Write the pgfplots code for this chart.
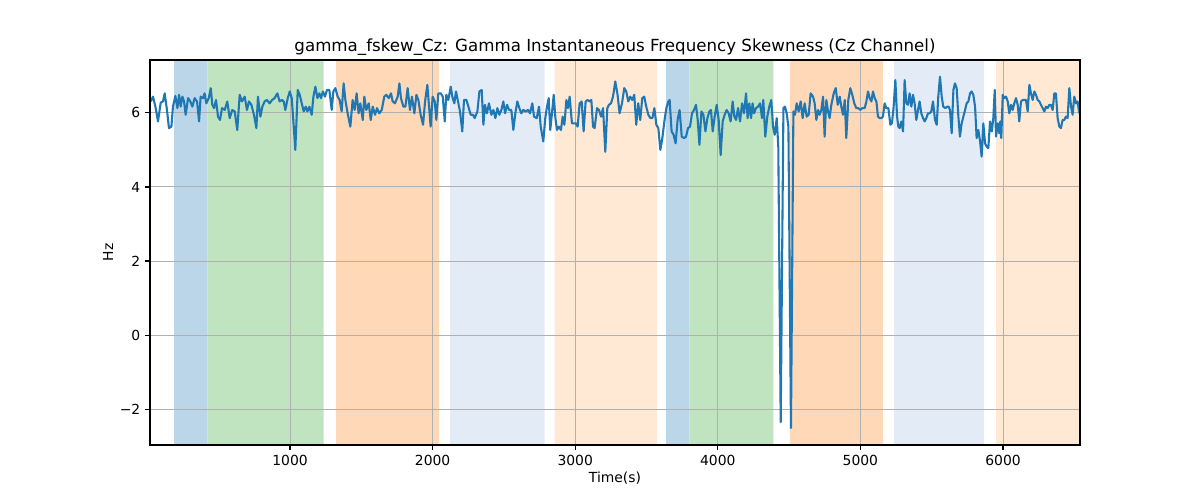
\documentclass[border=0pt]{standalone}
\usepackage{pgfplots}
\pgfplotsset{compat=1.18}
\usepackage{fontspec}
\setmainfont{DejaVu Sans}
\definecolor{tabblue}{RGB}{31,119,180}
\definecolor{gridgray}{RGB}{176,176,176}
\definecolor{spanblue}{RGB}{188,214,233}
\definecolor{spangreen}{RGB}{192,227,192}
\definecolor{spanorange}{RGB}{255,217,183}
\definecolor{spanlblue}{RGB}{227,236,246}
\definecolor{spanlorange}{RGB}{255,233,212}
\pgfplotstableread{
t v
23 6.31
39 6.44
56 6.17
74 5.77
93 6.28
109 6.31
121 6.53
137 6.08
151 5.59
168 5.63
179 6.17
196 6.46
210 6.13
222 6.49
233 6.17
245 6.44
257 6.31
268 5.95
285 6.40
301 6.31
315 6.17
331 6.40
348 6.31
362 5.77
373 6.44
390 6.40
401 6.53
413 6.26
430 6.40
444 6.67
455 6.22
467 6.13
481 6.35
495 5.90
509 5.81
523 6.13
542 6.08
560 6.31
577 5.86
595 6.08
612 6.04
630 5.54
647 6.49
663 6.31
682 6.44
698 6.08
712 6.31
729 6.22
747 5.95
764 5.59
775 6.44
792 5.90
806 6.17
822 6.31
838 6.35
857 6.26
874 6.35
892 6.40
911 6.53
927 6.31
944 6.35
956 6.31
967 6.08
984 6.40
998 6.58
1012 6.40
1026 5.63
1037 5.00
1054 6.62
1068 6.49
1082 6.26
1096 6.04
1110 6.17
1122 6.04
1136 6.17
1152 5.95
1164 6.44
1178 6.71
1192 6.40
1206 6.53
1217 6.40
1231 6.58
1245 6.44
1259 6.62
1276 6.62
1292 6.08
1304 6.58
1318 6.67
1334 6.44
1348 6.35
1362 6.04
1376 6.80
1388 6.35
1404 5.99
1423 5.63
1439 6.35
1453 6.08
1467 6.53
1481 5.99
1493 6.26
1510 5.81
1521 6.44
1535 6.08
1552 6.26
1566 5.81
1580 6.17
1596 5.95
1610 6.13
1626 5.99
1643 6.08
1661 6.44
1675 6.49
1692 6.40
1708 6.53
1720 6.31
1736 6.26
1755 6.44
1767 6.80
1778 6.40
1795 6.17
1809 6.17
1825 6.67
1841 6.08
1855 6.44
1872 5.99
1886 6.49
1900 6.35
1916 5.95
1933 5.68
1947 6.31
1963 6.76
1975 6.17
1986 5.63
2000 6.44
2015 6.31
2026 5.81
2040 6.53
2057 6.53
2071 6.44
2085 5.77
2096 6.49
2110 6.35
2127 6.71
2138 6.44
2152 6.26
2164 6.58
2178 6.31
2192 6.04
2208 5.50
2220 6.35
2237 6.35
2251 6.17
2267 5.95
2283 5.95
2295 5.86
2314 6.04
2328 6.58
2344 6.62
2356 5.68
2367 6.22
2381 5.99
2395 6.26
2412 5.95
2426 6.08
2440 5.86
2454 6.13
2468 5.95
2482 6.08
2496 6.31
2508 5.99
2522 6.22
2536 6.08
2552 6.08
2566 5.54
2580 5.99
2594 6.31
2608 6.13
2622 5.99
2636 6.08
2653 6.04
2669 6.08
2683 5.99
2699 6.26
2711 5.90
2730 5.86
2746 6.17
2758 5.63
2776 5.23
2790 5.86
2802 6.17
2814 6.40
2825 5.54
2837 5.99
2849 6.49
2861 5.86
2872 5.54
2886 5.63
2900 5.54
2912 5.90
2924 5.68
2938 6.35
2949 6.13
2961 6.44
2977 5.72
2989 5.72
3003 5.72
3017 5.63
3031 6.26
3045 6.31
3059 5.50
3073 6.31
3087 6.35
3101 6.31
3113 6.35
3125 5.63
3136 5.59
3153 6.13
3167 6.08
3181 5.90
3195 6.13
3211 4.95
3225 6.13
3237 6.22
3251 6.26
3265 6.44
3281 6.85
3297 6.49
3311 5.99
3328 6.26
3344 6.67
3358 6.58
3372 6.31
3386 6.44
3400 6.35
3414 6.49
3428 5.68
3442 6.26
3456 5.81
3470 6.40
3484 6.44
3498 6.17
3513 5.95
3527 5.86
3541 5.86
3555 6.13
3569 5.68
3583 5.59
3597 5.00
3611 5.32
3625 5.77
3639 6.13
3653 6.31
3662 6.35
3676 5.50
3690 5.41
3704 5.18
3718 5.81
3732 6.08
3747 5.36
3763 5.32
3777 5.36
3791 5.59
3805 5.63
3819 5.99
3833 6.08
3847 6.22
3859 5.81
3871 5.14
3885 6.04
3899 5.95
3913 5.50
3927 5.86
3941 6.04
3952 6.08
3964 5.50
3978 5.90
3992 6.22
4006 5.81
4020 4.86
4034 5.77
4048 5.95
4062 6.08
4076 5.99
4090 5.77
4104 6.31
4116 5.90
4128 5.81
4142 6.13
4156 5.77
4170 6.26
4184 5.99
4198 6.53
4209 5.86
4221 6.26
4233 5.86
4244 6.26
4254 5.99
4268 6.13
4282 6.17
4296 6.26
4310 5.86
4319 6.35
4333 5.36
4347 5.90
4361 6.17
4375 6.35
4387 5.63
4399 5.41
4413 5.86
4424 5.09
4441 -2.35
4460 6.13
4471 6.17
4483 5.99
4495 5.63
4513 -2.51
4530 6.04
4541 5.95
4553 6.26
4567 6.04
4581 6.31
4595 5.86
4609 6.26
4623 5.90
4637 5.95
4651 6.53
4668 6.44
4679 6.26
4691 5.81
4703 6.08
4714 5.95
4726 6.08
4738 6.44
4749 5.36
4761 6.35
4773 6.04
4784 5.86
4796 6.22
4813 6.53
4827 6.67
4841 6.22
4855 6.44
4866 6.17
4878 5.95
4890 6.35
4901 5.32
4915 6.35
4929 6.67
4943 6.49
4957 6.26
4971 6.13
4985 6.13
4999 6.08
5013 6.13
5030 6.13
5042 6.31
5053 6.58
5065 6.40
5077 6.31
5088 6.58
5100 6.40
5112 6.31
5123 5.90
5135 5.86
5147 5.86
5158 5.90
5170 6.26
5182 6.13
5196 6.13
5210 5.68
5221 5.72
5233 6.17
5245 6.89
5257 5.90
5266 5.63
5275 5.59
5287 5.77
5299 5.50
5310 6.89
5322 6.26
5334 6.22
5345 6.53
5357 6.17
5369 6.49
5380 6.26
5392 5.81
5404 6.08
5415 6.31
5427 5.99
5439 5.86
5451 5.77
5462 5.86
5474 5.99
5486 5.99
5497 6.04
5509 6.31
5523 5.81
5535 5.68
5546 6.44
5558 6.98
5570 6.44
5581 6.17
5595 6.13
5609 6.17
5619 6.17
5628 6.08
5640 5.45
5652 6.62
5663 6.80
5675 6.67
5687 5.90
5698 5.36
5710 5.72
5722 5.90
5734 6.08
5745 6.26
5757 6.31
5769 6.53
5780 6.58
5792 6.49
5804 6.17
5815 5.32
5827 5.54
5839 5.23
5850 4.82
5862 5.72
5874 5.18
5885 5.09
5897 5.05
5909 5.77
5921 5.50
5932 5.86
5942 6.62
5951 5.36
5963 5.72
5974 5.45
5981 5.77
5988 5.32
5998 6.49
6009 6.40
6021 6.44
6033 6.31
6044 5.99
6056 6.22
6068 6.08
6079 6.26
6091 6.40
6103 6.22
6114 5.77
6126 6.31
6138 6.35
6149 6.35
6161 6.35
6173 6.04
6185 6.76
6196 6.53
6208 6.35
6220 6.58
6231 6.49
6243 6.35
6255 6.31
6266 6.22
6278 6.13
6290 6.04
6301 6.17
6313 6.13
6325 6.22
6336 6.22
6348 6.08
6360 6.53
6371 6.53
6383 5.86
6395 5.63
6406 5.59
6418 5.81
6430 5.81
6441 5.90
6453 5.86
6465 6.67
6477 6.17
6488 5.95
6500 6.44
6512 6.26
6523 6.31
6535 5.99
}\datatable
\begin{document}
\begin{tikzpicture}
\useasboundingbox (0,0) rectangle (864pt,360pt);
\begin{axis}[
  axis on top,
  at={(108pt,39.6pt)}, anchor=south west,
  scale only axis, width=669.6pt, height=277.2pt,
  xmin=18, xmax=6540, ymin=-2.97, ymax=7.43,
  xtick={1000,2000,3000,4000,5000,6000},
  xticklabels={1000,2000,3000,4000,5000,6000},
  ytick={-2,0,2,4,6},
  yticklabels={−2,0,2,4,6},
  tick pos=left, tick align=outside,
  major tick length=3.5pt,
  every tick/.style={black, line width=0.8pt},
  axis line style={black, line width=0.8pt},
  tick label style={font=\fontsize{10}{12}\selectfont},
  xlabel={Time(s)}, ylabel={Hz},
  label style={font=\fontsize{10}{12}\selectfont},
  xlabel style={yshift=2pt},
  ylabel style={yshift=-2pt},
  title={gamma\_fskew\_Cz: Gamma Instantaneous Frequency Skewness (Cz Channel)},
  title style={font=\fontsize{12}{14}\selectfont, yshift=-6.5pt},
]
\addplot[fill=spanblue, draw=none] coordinates {(186.5,-10) (186.5,20) (420,20) (420,-10) (186.5,-10)};
\addplot[fill=spangreen, draw=none] coordinates {(420,-10) (420,20) (1236,20) (1236,-10) (420,-10)};
\addplot[fill=spanorange, draw=none] coordinates {(1323,-10) (1323,20) (2045,20) (2045,-10) (1323,-10)};
\addplot[fill=spanlblue, draw=none] coordinates {(2122,-10) (2122,20) (2786,20) (2786,-10) (2122,-10)};
\addplot[fill=spanlorange, draw=none] coordinates {(2856,-10) (2856,20) (3574,20) (3574,-10) (2856,-10)};
\addplot[fill=spanblue, draw=none] coordinates {(3637,-10) (3637,20) (3800,20) (3800,-10) (3637,-10)};
\addplot[fill=spangreen, draw=none] coordinates {(3800,-10) (3800,20) (4389,20) (4389,-10) (3800,-10)};
\addplot[fill=spanorange, draw=none] coordinates {(4506,-10) (4506,20) (5158,20) (5158,-10) (4506,-10)};
\addplot[fill=spanlblue, draw=none] coordinates {(5236,-10) (5236,20) (5865,20) (5865,-10) (5236,-10)};
\addplot[fill=spanlorange, draw=none] coordinates {(5951,-10) (5951,20) (6700,20) (6700,-10) (5951,-10)};
% grid lines above the spans, below the data line
\pgfplotsinvokeforeach{1000,2000,3000,4000,5000,6000}{
  \addplot[gridgray, line width=0.7pt, forget plot] coordinates {(#1,-10) (#1,20)};
}
\pgfplotsinvokeforeach{-2,0,2,4,6}{
  \addplot[gridgray, line width=0.7pt, forget plot] coordinates {(-100,#1) (7000,#1)};
}
\addplot[tabblue, line width=1.5pt, line join=round, mark=none] table[x=t, y=v] {\datatable};
\end{axis}
\end{tikzpicture}
\end{document}
